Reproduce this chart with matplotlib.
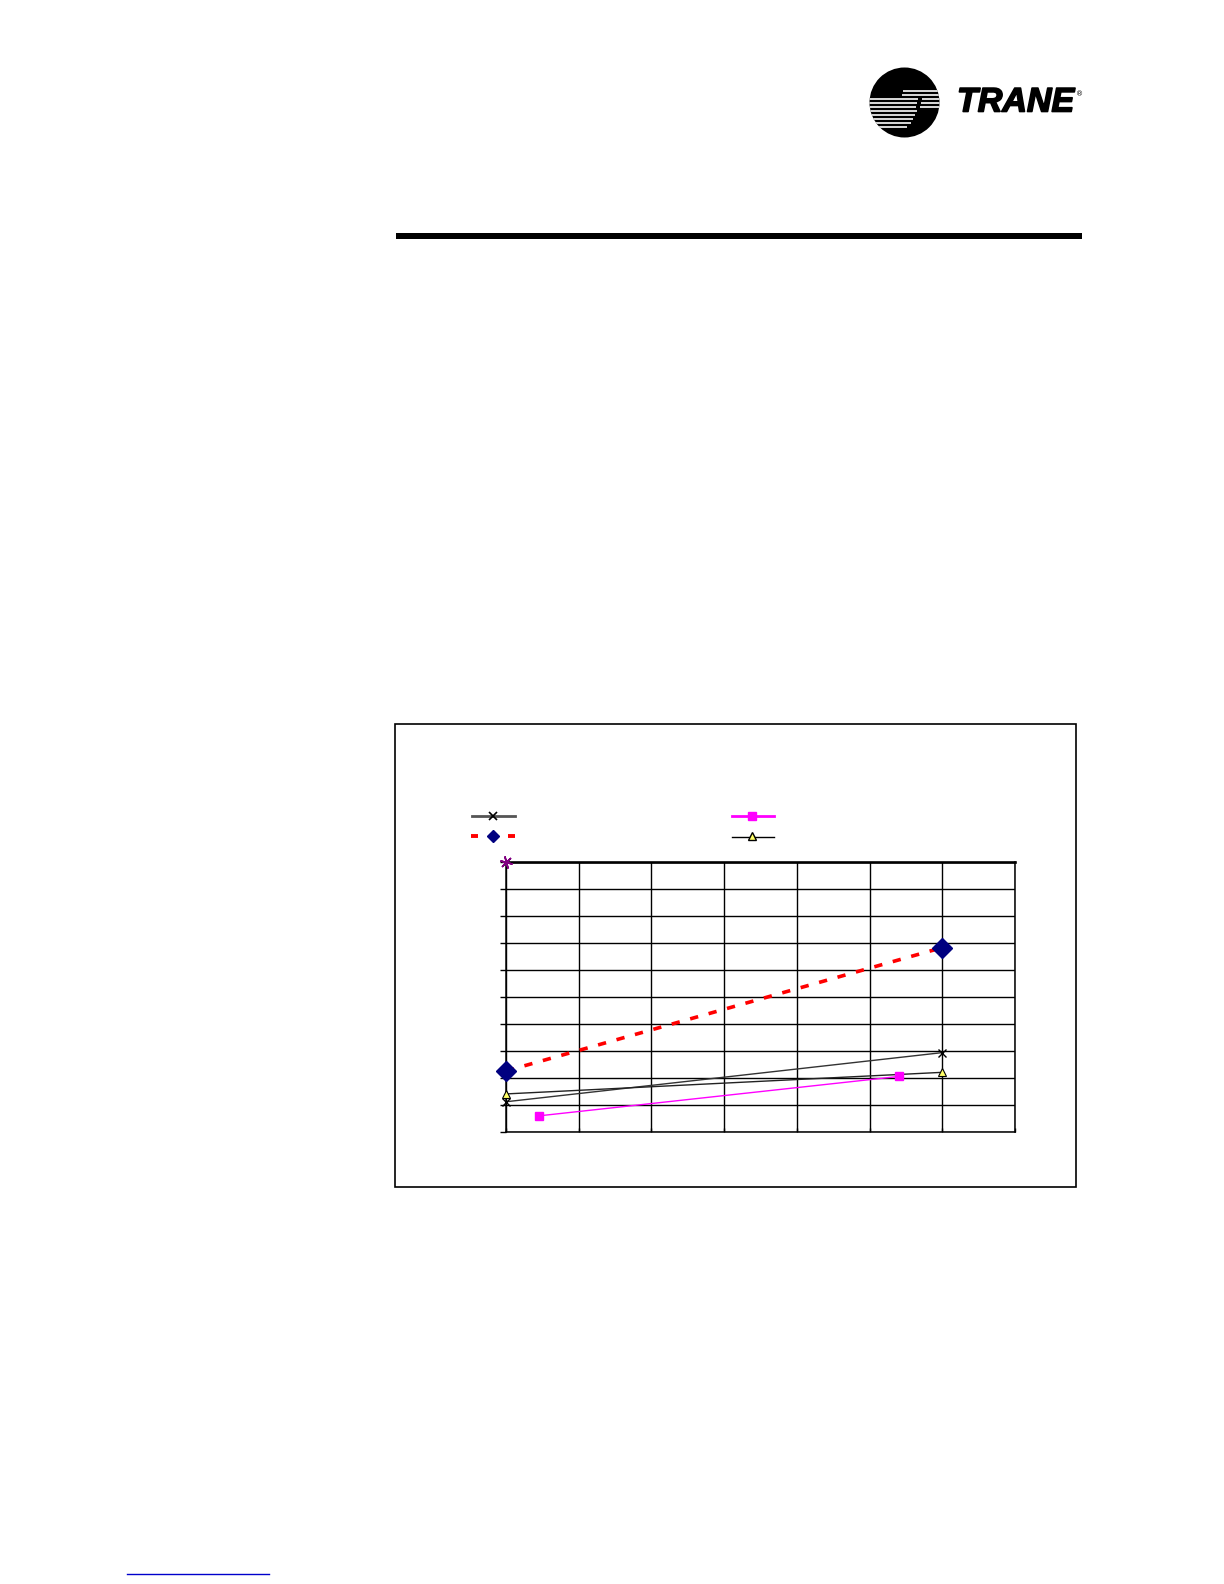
import matplotlib
matplotlib.use('Agg')
import matplotlib.pyplot as plt
import matplotlib.patheffects as pe
from matplotlib.lines import Line2D
from matplotlib.patches import Circle, Rectangle

# ── Chart data (grid units: 7 columns x 10 rows, no labels shown) ────────────
x_cross = [0.0, 6.0]
y_cross = [1.12, 2.94]

x_diamond = [0.0, 6.0]
y_diamond = [2.26, 6.83]

x_square = [0.46, 5.41]
y_square = [0.60, 2.06]

x_triangle = [0.0, 6.0]
y_triangle = [1.41, 2.21]

x_star = [0.0]
y_star = [10.0]

X_TICKS = list(range(0, 8))
Y_TICKS = list(range(0, 11))

W, H = 1224, 1584
fig = plt.figure(figsize=(W / 100, H / 100), dpi=100)

# ── Page furniture in pixel coordinates ─────────────────────────────────────
bg = fig.add_axes([0, 0, 1, 1], zorder=0)
bg.set_xlim(0, W)
bg.set_ylim(H, 0)
bg.axis('off')

# heavy rule under the header
bg.add_patch(Rectangle((396, 233), 686, 6, color='black', lw=0))

# Trane logo: black disc with white stripes
disc = Circle((904.5, 102.5), 35, color='black', lw=0)
bg.add_patch(disc)
stripes = [(91, 903, 942), (94.5, 902, 942),
           (98.5, 866, 918), (98.5, 922, 942),
           (102.5, 866, 917), (102.5, 921, 942),
           (106.5, 866, 916), (106.5, 920, 942),
           (110.5, 866, 917), (114.5, 866, 915), (118.5, 866, 913),
           (122.5, 866, 911), (126.5, 866, 907)]
for sy, sx0, sx1 in stripes:
    ln, = bg.plot([sx0, sx1], [sy, sy], color='white', lw=1.2, solid_capstyle='butt')
    ln.set_clip_path(disc)
bg.text(957, 103, 'TRANE', fontsize=24.5, fontweight='bold', style='italic',
        family='Liberation Sans', ha='left', va='center',
        path_effects=[pe.withStroke(linewidth=1.2, foreground='black')])
bg.text(1076, 94, '®', fontsize=5, ha='left', va='center')

# chart box
bg.add_patch(Rectangle((395, 724), 681, 463, fill=False, ec='black', lw=1.2))

# legend samples (no text in the original)
bg.add_line(Line2D([472, 515], [816, 816], color='#555555', lw=2))
bg.plot([493], [816], marker='x', color='black', ms=6, mew=1.2)
bg.add_line(Line2D([471, 478], [836, 836], color='red', lw=2.8, solid_capstyle='butt'))
bg.add_line(Line2D([508, 515], [836, 836], color='red', lw=2.8, solid_capstyle='butt'))
bg.plot([493], [836], marker='D', color='#000080', ms=6, mec='#000080')
bg.add_line(Line2D([732, 774], [816, 816], color='#ff00ff', lw=2))
bg.plot([752], [816], marker='s', color='#ff00ff', ms=6)
bg.add_line(Line2D([732, 774], [837, 837], color='black', lw=1))
bg.plot([752], [836], marker='^', color='#ffff66', mec='black', ms=6, mew=1)

# blue link underline at page foot
bg.add_line(Line2D([127, 269], [1574, 1574], color='#0000cc', lw=1))

# ── Chart axes ───────────────────────────────────────────────────────────────
ax = fig.add_axes([506 / W, 1 - 1132 / H, 509 / W, 270 / H], zorder=1)
ax.patch.set_alpha(0)
ax.set_xlim(0, 7)
ax.set_ylim(0, 10)
ax.set_xticks(X_TICKS)
ax.set_yticks(Y_TICKS)
ax.set_xticklabels([])
ax.set_yticklabels([])
ax.tick_params(axis='y', direction='out', length=4, width=1.0)
ax.tick_params(axis='x', direction='in', length=3, width=1.0)
ax.grid(True, color='black', lw=1.0)
for side in ['left', 'right', 'bottom']:
    ax.spines[side].set_linewidth(1.1)
ax.spines['top'].set_linewidth(1.9)

ax.plot(x_diamond, y_diamond, color='red', lw=2.6, ls=(0, (2.3, 3.0)),
        zorder=3, clip_on=False)
ax.plot(x_diamond, y_diamond, ls='none', marker='D', color='#000080',
        ms=10, zorder=5, clip_on=False)
ax.plot(x_cross, y_cross, color='#333333', lw=1, marker='x', ms=6,
        mec='black', mew=1, zorder=4, clip_on=False)
ax.plot(x_triangle, y_triangle, color='#222222', lw=1, marker='^', ms=6,
        mfc='#ffff66', mec='black', mew=0.8, zorder=4, clip_on=False)
ax.plot(x_square, y_square, color='#ff00ff', lw=1, marker='s', ms=6,
        zorder=4, clip_on=False)
ax.plot(x_star, y_star, ls='none', marker=(6, 2, 15), color='#800080',
        ms=9, mew=1.2, zorder=5, clip_on=False)

fig.savefig('out.png', dpi=100)
